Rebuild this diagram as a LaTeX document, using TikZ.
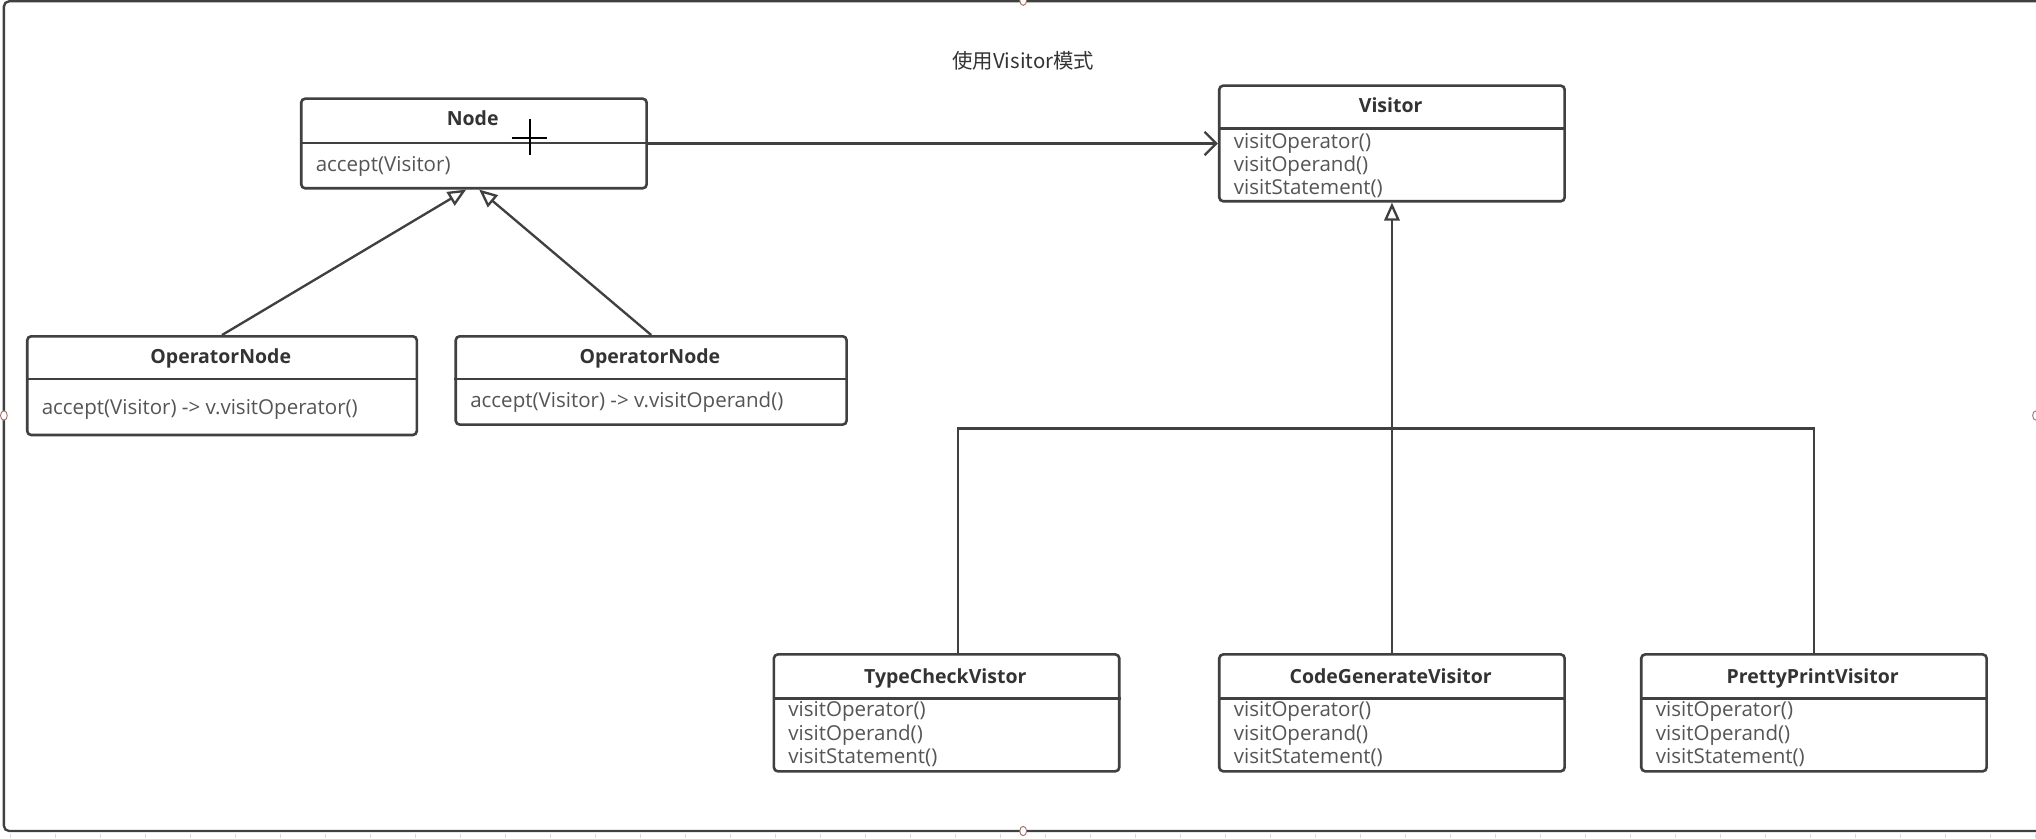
\documentclass[tikz,border=0pt]{standalone}
\usepackage{fontspec}
\setmainfont{Open Sans}
\newfontfamily\cjk{Noto Sans CJK SC}
\usetikzlibrary{arrows.meta}
\definecolor{linec}{HTML}{404040}
\definecolor{titlec}{HTML}{333333}
\definecolor{methc}{HTML}{555555}
\definecolor{handlec}{HTML}{A07068}
\definecolor{tickc}{HTML}{DADADA}
\tikzset{
  classbox/.style={draw=linec, line width=2pt, rounded corners=3pt, inner sep=0pt, anchor=north west},
  divider/.style={draw=linec, line width=2pt},
  ctitle/.style={inner sep=0pt, anchor=base, text=titlec, font=\fontsize{15}{18}\selectfont\bfseries},
  cmeth/.style={inner sep=0pt, anchor=base west, text=methc, font=\fontsize{15.8}{18}\selectfont},
  conn/.style={draw=linec, line width=1.8pt},
  inherit/.style={conn, -{Triangle[open, length=14pt, width=12pt, line width=1.8pt, fill=white]}},
  assoc/.style={conn, -{Straight Barb[length=9pt, width=18pt, line width=1.8pt]}},
  handle/.style={draw=handlec, fill=white, line width=0.7pt},
}
\begin{document}
\begin{tikzpicture}[x=1pt, y=-1pt]
\useasboundingbox (0,0) rectangle (1568,645.4);
\fill[white] (0,0) rectangle (1568,645.4);

% ruler ticks
\foreach \i in {0,...,45} \draw[tickc, line width=0.6pt] (8+34.66*\i,642) -- (8+34.66*\i,645.4);

% outer frame
\draw[linec, line width=1.8pt, rounded corners=4pt] (1580,1) -- (3,1) -- (3,640) -- (1580,640);
\draw[handle] (788,0.5) ellipse (2.6pt and 3.6pt);
\draw[handle] (788,640) ellipse (2.6pt and 3.6pt);
\draw[handle] (3,320) ellipse (2.6pt and 3.6pt);
\draw[handle] (1568,320) ellipse (2.6pt and 3.6pt);

% title
\node[inner sep=0pt, anchor=base, text=titlec, font=\cjk\fontsize{15.7}{18}\selectfont] (caption) at (788,53) {使用Visitor模式};

% Node
\node[classbox, minimum width=266pt, minimum height=69pt] (node) at (231,75) {};
\draw[divider] ([yshift=-35pt]node.north west) -- ([yshift=-35pt]node.north east);
\node[ctitle] (nodeT) at (364,97) {Node};
\node[cmeth] (nodeM) at (243,132) {accept(Visitor)};

% OperatorNode (left)
\node[classbox, minimum width=300pt, minimum height=76pt] (opa) at (20,258) {};
\draw[divider] ([yshift=-34pt]opa.north west) -- ([yshift=-34pt]opa.north east);
\node[ctitle] (opaT) at (170,280) {OperatorNode};
\node[cmeth] (opaM) at (32,319) {accept(Visitor) -> v.visitOperator()};

% OperatorNode (right)
\node[classbox, minimum width=301pt, minimum height=68pt] (opb) at (350,258) {};
\draw[divider] ([yshift=-34pt]opb.north west) -- ([yshift=-34pt]opb.north east);
\node[ctitle] (opbT) at (500.5,280) {OperatorNode};
\node[cmeth] (opbM) at (362,314) {accept(Visitor) -> v.visitOperand()};

% Visitor
\node[classbox, minimum width=266pt, minimum height=89pt] (vis) at (938,65) {};
\draw[divider] ([yshift=-34pt]vis.north west) -- ([yshift=-34pt]vis.north east);
\node[ctitle] (visT) at (1071,87) {Visitor};
\node[cmeth] (visA) at (950,114) {visitOperator()};
\node[cmeth] (visB) at (950,132) {visitOperand()};
\node[cmeth] (visC) at (950,150) {visitStatement()};

% TypeCheckVistor
\node[classbox, minimum width=266pt, minimum height=90pt] (tc) at (595,503) {};
\draw[divider] ([yshift=-35pt]tc.north west) -- ([yshift=-35pt]tc.north east);
\node[ctitle] (tcT) at (728,526) {TypeCheckVistor};
\node[cmeth] (tcA) at (607,552) {visitOperator()};
\node[cmeth] (tcB) at (607,570) {visitOperand()};
\node[cmeth] (tcC) at (607,588) {visitStatement()};

% CodeGenerateVisitor
\node[classbox, minimum width=266pt, minimum height=90pt] (cg) at (938,503) {};
\draw[divider] ([yshift=-35pt]cg.north west) -- ([yshift=-35pt]cg.north east);
\node[ctitle] (cgT) at (1071,526) {CodeGenerateVisitor};
\node[cmeth] (cgA) at (950,552) {visitOperator()};
\node[cmeth] (cgB) at (950,570) {visitOperand()};
\node[cmeth] (cgC) at (950,588) {visitStatement()};

% PrettyPrintVisitor
\node[classbox, minimum width=266pt, minimum height=90pt] (pp) at (1263,503) {};
\draw[divider] ([yshift=-35pt]pp.north west) -- ([yshift=-35pt]pp.north east);
\node[ctitle] (ppT) at (1396,526) {PrettyPrintVisitor};
\node[cmeth] (ppA) at (1275,552) {visitOperator()};
\node[cmeth] (ppB) at (1275,570) {visitOperand()};
\node[cmeth] (ppC) at (1275,588) {visitStatement()};

% connectors
\draw[assoc] (node.east) -- (vis.west);
\draw[inherit] (opa.north) -- ([xshift=-6pt]node.south);
\draw[inherit] (opb.north) -- ([xshift=4pt]node.south);
\coordinate (bar) at (0,330);
\draw[conn] ([xshift=9pt]tc.north) -- ([xshift=9pt]tc.north |- bar) -- (pp.north |- bar) -- (pp.north);
\draw[inherit] (cg.north) -- (vis.south);

% cursor
\draw[black, line width=1.5pt] (394,106) -- (421,106);
\draw[black, line width=1.5pt] (408,92) -- (408,119);
\end{tikzpicture}
\end{document}
